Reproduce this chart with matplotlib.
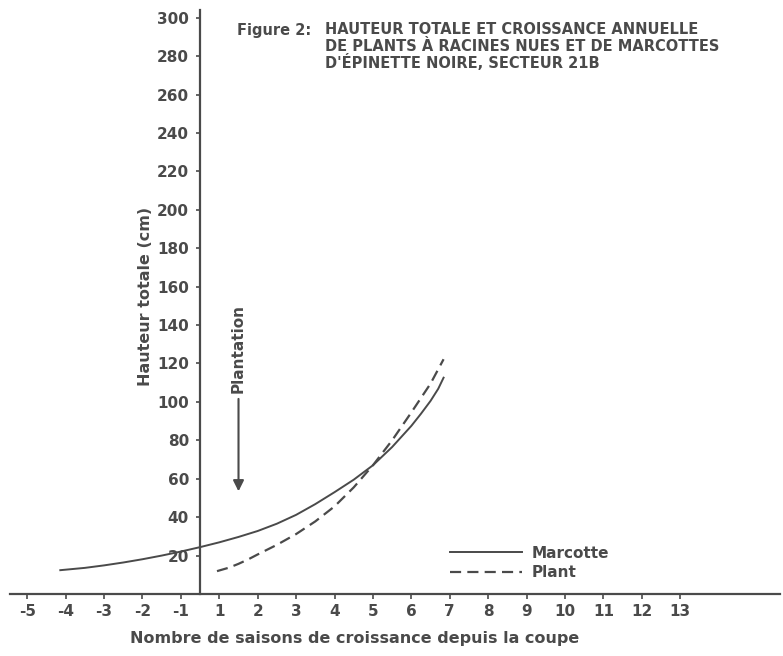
import matplotlib.pyplot as plt
import numpy as np

# x positions on the axis: seasons -5..-1 sit at -5..-1, seasons 1..13 at 0..12 (there is no season 0)
tick_pos = [-5, -4, -3, -2, -1, 0, 1, 2, 3, 4, 5, 6, 7, 8, 9, 10, 11, 12]
tick_lab = ['-5', '-4', '-3', '-2', '-1', '1', '2', '3', '4', '5', '6', '7', '8', '9', '10', '11', '12', '13']
y_ticks = [20, 40, 60, 80, 100, 120, 140, 160, 180, 200, 220, 240, 260, 280, 300]

# heights (cm)
marcotte_x = np.array([-4.14, -3.5, -3, -2.5, -2, -1.5, -1, -0.5, 0, 0.5, 1, 1.5, 2, 2.5,
                       3, 3.5, 4, 4.5, 5, 5.25, 5.5, 5.7, 5.84])
marcotte_y = np.array([12.4, 13.6, 14.9, 16.4, 18.1, 20.0, 22.1, 24.4, 26.9, 29.7, 32.8, 36.6, 41.2, 46.8,
                       53.0, 59.5, 67.0, 76.5, 87.5, 93.8, 100.5, 106.8, 112.6])

plant_x = np.array([-0.06, 0.25, 0.5, 0.75, 1, 1.5, 2, 2.5, 3, 3.5, 4, 4.5, 5, 5.5, 5.84])
plant_y = np.array([11.9, 13.7, 15.7, 18.0, 20.6, 25.6, 31.2, 37.8, 45.6, 55.5, 67.0, 80.0, 94.5, 109.5, 122.2])

ink = '#4a4a4a'
plt.rcParams['font.family'] = ['DejaVu Sans']
plt.rcParams['font.weight'] = 'bold'

fig = plt.figure(figsize=(7.83, 6.56), dpi=100)
ax = fig.add_axes([10/783, 62/656, 770/783, 584/656])

ax.plot(marcotte_x, marcotte_y, c=ink, lw=1.4, label='Marcotte')
ax.plot(plant_x, plant_y, c=ink, lw=1.6, linestyle=(0, (5, 2.8)), label='Plant')

ax.set_xlim(-5.45, 14.6)
ax.set_ylim(0, 304)

ax.spines['top'].set_visible(False)
ax.spines['right'].set_visible(False)
ax.spines['left'].set_position(('data', -0.5))
for s in ['left', 'bottom']:
    ax.spines[s].set_color(ink)
    ax.spines[s].set_linewidth(1.6)

ax.set_xticks(tick_pos)
ax.set_xticklabels(tick_lab)
ax.set_yticks(y_ticks)
ax.tick_params(colors=ink, labelsize=11, width=1.2)
ax.tick_params(axis='x', length=3.5, pad=4)
ax.tick_params(axis='y', length=3, pad=5)

fig.text(130/783, 1 - 638/656, 'Nombre de saisons de croissance depuis la coupe',
         color=ink, fontsize=11.5, va='center', ha='left')

ax.text(-1.93, 155, 'Hauteur totale (cm)', rotation=90, ha='center', va='center',
        color=ink, fontsize=11.5)

# Plantation arrow
ax.annotate('', xy=(0.5, 52), xytext=(0.5, 103),
            arrowprops=dict(arrowstyle='-|>', color=ink, lw=1.5, mutation_scale=16))
ax.text(0.5, 128, 'Plantation', rotation=90, ha='center', va='center', color=ink, fontsize=11)

# title
fig.text(237/783, 1 - 30/656, 'Figure 2:', color=ink, fontsize=10.5, va='center')
title_lines = ['HAUTEUR TOTALE ET CROISSANCE ANNUELLE',
               'DE PLANTS À RACINES NUES ET DE MARCOTTES',
               "D'ÉPINETTE NOIRE, SECTEUR 21B"]
for i, line in enumerate(title_lines):
    fig.text(325/783, 1 - (30 + 16.5*i)/656, line, color=ink, fontsize=10.5, va='center')

leg = ax.legend(loc='center left', bbox_to_anchor=(440/770, 31/584), frameon=False,
                borderpad=0, borderaxespad=0, handlelength=4.7, fontsize=11,
                labelspacing=0.3, handletextpad=0.65)
for t in leg.get_texts():
    t.set_color(ink)

fig.savefig('out.png', dpi=100)
